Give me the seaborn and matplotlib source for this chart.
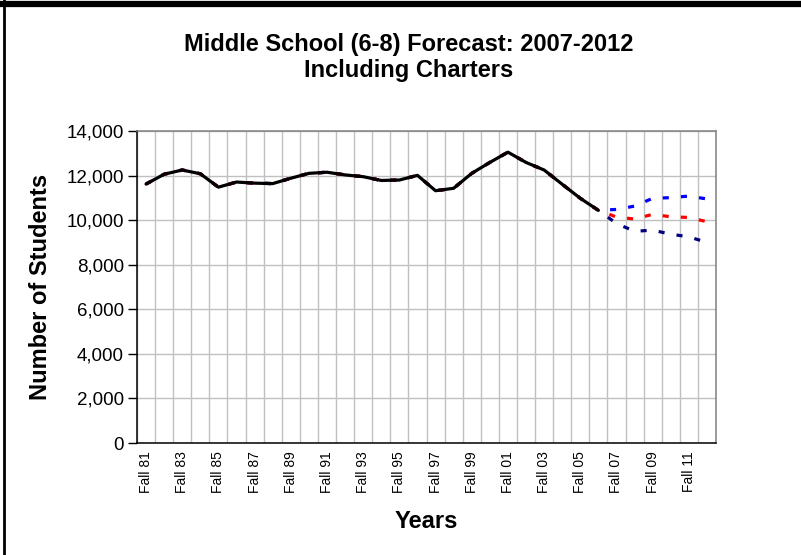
import numpy as np
import pandas as pd
import matplotlib
matplotlib.use("Agg")
import matplotlib.pyplot as plt
from matplotlib.lines import Line2D
from matplotlib.ticker import FuncFormatter, FixedLocator
import seaborn as sns

# data
years = [f"Fall {y % 100:02d}" for y in range(1981, 2013)]
actual = [11620, 12060, 12250, 12080, 11480, 11710, 11660, 11640, 11880, 12100,
          12150, 12030, 11950, 11780, 11800, 12010, 11320, 11430, 12100, 12590,
          13050, 12590, 12250, 11610, 10980, 10440]
high_fc = [10480, 10630, 10980, 11010, 11080, 10950]
mid_fc = [10140, 10050, 10260, 10150, 10120, 9930]
low_fc = [9850, 9500, 9550, 9370, 9250, 9000]

sns.set_style("white")
plt.rcParams['font.family'] = ['Liberation Sans', 'DejaVu Sans']
for k in ["text.color", "axes.labelcolor", "xtick.color", "ytick.color"]:
    plt.rcParams[k] = "black"

fig = plt.figure(figsize=(8.01, 5.55), dpi=100)
ax = fig.add_axes([137 / 801, 1 - 443 / 555, 579 / 801, 312 / 555])

x_all = np.arange(len(years))
x_act = np.arange(len(actual))

# forecast series run over history too, hidden under the actual line
series = [
    ("high", actual + high_fc, "#0000FF"),
    ("low", actual + low_fc, "#000080"),
    ("mid", actual + mid_fc, "#FF0000"),
]
for name, vals, col in series:
    df = pd.DataFrame({"x": x_all, "y": vals})
    sns.lineplot(data=df, x="x", y="y", ax=ax, color=col, lw=2.3,
                 linestyle=(0, (1.9, 3.8)), dash_capstyle="butt")

df_act = pd.DataFrame({"x": x_act, "y": actual})
sns.lineplot(data=df_act, x="x", y="y", ax=ax, color="black", lw=2.3)

ax.set_xlim(-0.5, len(years) - 0.5)
ax.set_ylim(0, 14000)
ax.set_yticks(np.arange(0, 14001, 2000))
ax.yaxis.set_major_formatter(FuncFormatter(lambda v, p: f"{int(v):,}"))

ax.set_xticks(x_all[::2])
ax.set_xticklabels(years[::2], rotation=90, fontsize=10)
ax.xaxis.set_minor_locator(FixedLocator(np.arange(-0.5, len(years), 1)))
ax.tick_params(axis="x", which="major", length=0, pad=6)
ax.tick_params(axis="x", which="minor", direction="inout", length=7, width=1, color="black")
ax.tick_params(axis="y", which="major", direction="out", length=6.5, width=1,
               color="black", labelsize=13.5, pad=3, left=True)

ax.grid(True, axis="y", which="major", color="#c0c0c0", lw=1)
ax.grid(True, axis="x", which="minor", color="#c0c0c0", lw=1)
ax.grid(False, axis="x", which="major")
ax.set_axisbelow(True)

for s in ["left", "bottom"]:
    ax.spines[s].set_color("black")
    ax.spines[s].set_linewidth(1.1)
for s in ["top", "right"]:
    ax.spines[s].set_color("#808080")
    ax.spines[s].set_linewidth(1.1)

ax.set_xlabel("Years", fontsize=17, fontweight="bold", labelpad=12)
ax.set_ylabel("Number of Students", fontsize=17, fontweight="bold", labelpad=10)

fig.text(0.51, 1 - 57.5 / 555, "Middle School (6-8) Forecast: 2007-2012\nIncluding Charters",
         ha="center", va="center", fontsize=17, fontweight="bold", linespacing=1.2)

# outer frame (top and left edges visible in the reference)
fig.add_artist(Line2D([0, 1], [1 - 3.5 / 555, 1 - 3.5 / 555], color="black", lw=4.5,
                      transform=fig.transFigure))
fig.add_artist(Line2D([4 / 801, 4 / 801], [0, 1], color="black", lw=2,
                      transform=fig.transFigure))

fig.savefig("out.png", dpi=100)
